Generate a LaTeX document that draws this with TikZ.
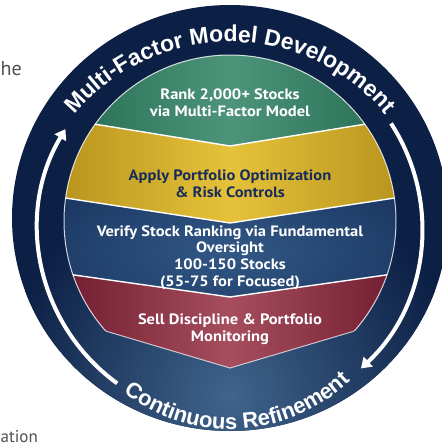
\documentclass[tikz,border=0pt]{standalone}
\usepackage{fontspec}
\setmainfont{PT Sans}
\newfontfamily\lblfont[FakeStretch=1.1]{PT Sans}
\newfontfamily\arcfont{Liberation Sans}
\usetikzlibrary{decorations.text,arrows.meta,calc}
\definecolor{ringnavy}{RGB}{12,31,68}
\definecolor{glownavy}{RGB}{64,100,140}
\definecolor{bandnavyin}{RGB}{50,88,134}
\definecolor{bandnavyout}{RGB}{14,36,78}
\definecolor{greenedge}{RGB}{38,108,82}
\definecolor{greenmid}{RGB}{78,148,122}
\definecolor{goldedge}{RGB}{184,148,30}
\definecolor{goldmid}{RGB}{230,194,58}
\definecolor{rededge}{RGB}{112,28,48}
\definecolor{redmid}{RGB}{166,78,94}
\definecolor{labelnavy}{RGB}{24,44,90}
\definecolor{pagegray}{RGB}{80,80,80}
\begin{document}
\begin{tikzpicture}[x=1pt,y=1pt,
  lbl/.style={font=\lblfont\bfseries\fontsize{15}{16.6}\selectfont, align=center, text=white, inner sep=0pt},
  sepline/.style={draw=white, line width=1.4pt},
  cyclearrow/.style={draw=white, line width=4pt, -{Triangle[width=13pt,length=10pt]}},
  arctext/.style={decorate, decoration={text along path, text align=center, text color=white, text={#1}}},
  pagetext/.style={anchor=base west, text=pagegray, inner sep=0pt},
]
\useasboundingbox (0,0) rectangle (442,-448);
\fill[white] (0,0) rectangle (442,-448);
% centres
\coordinate (cOut) at (230,-218);
\coordinate (cIn) at (230,-221);
\coordinate (cArc) at (230,-228);
\coordinate (cTop) at (230,-245);
\coordinate (cBot) at (230,-255);
% outer disc
\fill[ringnavy] (cOut) ellipse[x radius=218, y radius=213];
\begin{scope}
  \clip (cOut) ellipse[x radius=218, y radius=213];
  \shade[inner color=glownavy, outer color=ringnavy] (230,-395) circle[radius=230];
\end{scope}
% inner content
\begin{scope}
  \clip (cIn) circle[radius=166];
  \shade[left color=greenedge, right color=greenedge, middle color=greenmid]
    (60,-40) -- (400,-40) -- (400,-118.5) -- (230,-146) -- (60,-118.5) -- cycle;
  \shade[left color=goldedge, right color=goldedge, middle color=goldmid]
    (60,-118.5) -- (230,-146) -- (400,-118.5) -- (400,-197.2) -- (230,-223) -- (60,-197.2) -- cycle;
  \begin{scope}
    \clip (60,-197.2) -- (230,-223) -- (400,-197.2) -- (400,-273) -- (230,-297) -- (60,-273) -- cycle;
    \shade[inner color=bandnavyin, outer color=bandnavyout] (230,-252) ellipse[x radius=330, y radius=140];
  \end{scope}
  \shade[left color=rededge, right color=rededge, middle color=redmid]
    (60,-273) -- (230,-297) -- (400,-273) -- (400,-317.5) -- (230,-368) -- (60,-317.5) -- cycle;
  \draw[sepline] (60,-118.5) -- (230,-146) -- (400,-118.5);
  \draw[sepline] (60,-197.2) -- (230,-223) -- (400,-197.2);
  \draw[sepline] (60,-273) -- (230,-297) -- (400,-273);
  \draw[white, opacity=.7, line width=1pt] (60,-317.5) -- (230,-368) -- (400,-317.5);
\end{scope}
% outline of inner disc above the red bottom
\begin{scope}
  \clip (20,0) -- (440,0) -- (440,-305.6) -- (230,-368) -- (20,-305.6) -- cycle;
  \draw[white, opacity=.8, line width=1pt] (cIn) circle[radius=166];
\end{scope}
% cycle arrows
\draw[cyclearrow] ($(cArc)+(234:192)$) arc[start angle=234, end angle=149, radius=192];
\draw[cyclearrow] ($(cArc)+(33:192)$) arc[start angle=33, end angle=-47, radius=192];
% arc texts
\path[arctext={|\arcfont\bfseries\fontsize{23}{23}\selectfont|Multi-Factor Model Development}]
  ($(cTop)+(180:203)$) arc[start angle=180, end angle=0, radius=203];
\path[arctext={|\arcfont\bfseries\fontsize{22}{22}\selectfont|Continuous Refinement}]
  ($(cBot)+(183:174)$) arc[start angle=183, end angle=363, radius=174];
% labels
\node[lbl] (rank) at (230,-103) {Rank 2,000+ Stocks\\via Multi-Factor Model};
\node[lbl, text=labelnavy] (apply) at (230,-184) {Apply Portfolio Optimization\\\& Risk Controls};
\node[lbl] (verify) at (230,-257.5) {Verify Stock Ranking via Fundamental\\Oversight\\100-150 Stocks\\(55-75 for Focused)};
\node[lbl] (sell) at (230,-329.5) {Sell Discipline \& Portfolio\\Monitoring};
% page fragments
\node[pagetext, font=\fontsize{20}{20}\selectfont] (he) at (0.5,-75) {he};
\node[pagetext, font=\fontsize{17}{17}\selectfont] (ation) at (0.5,-442) {ation};
\end{tikzpicture}
\end{document}
